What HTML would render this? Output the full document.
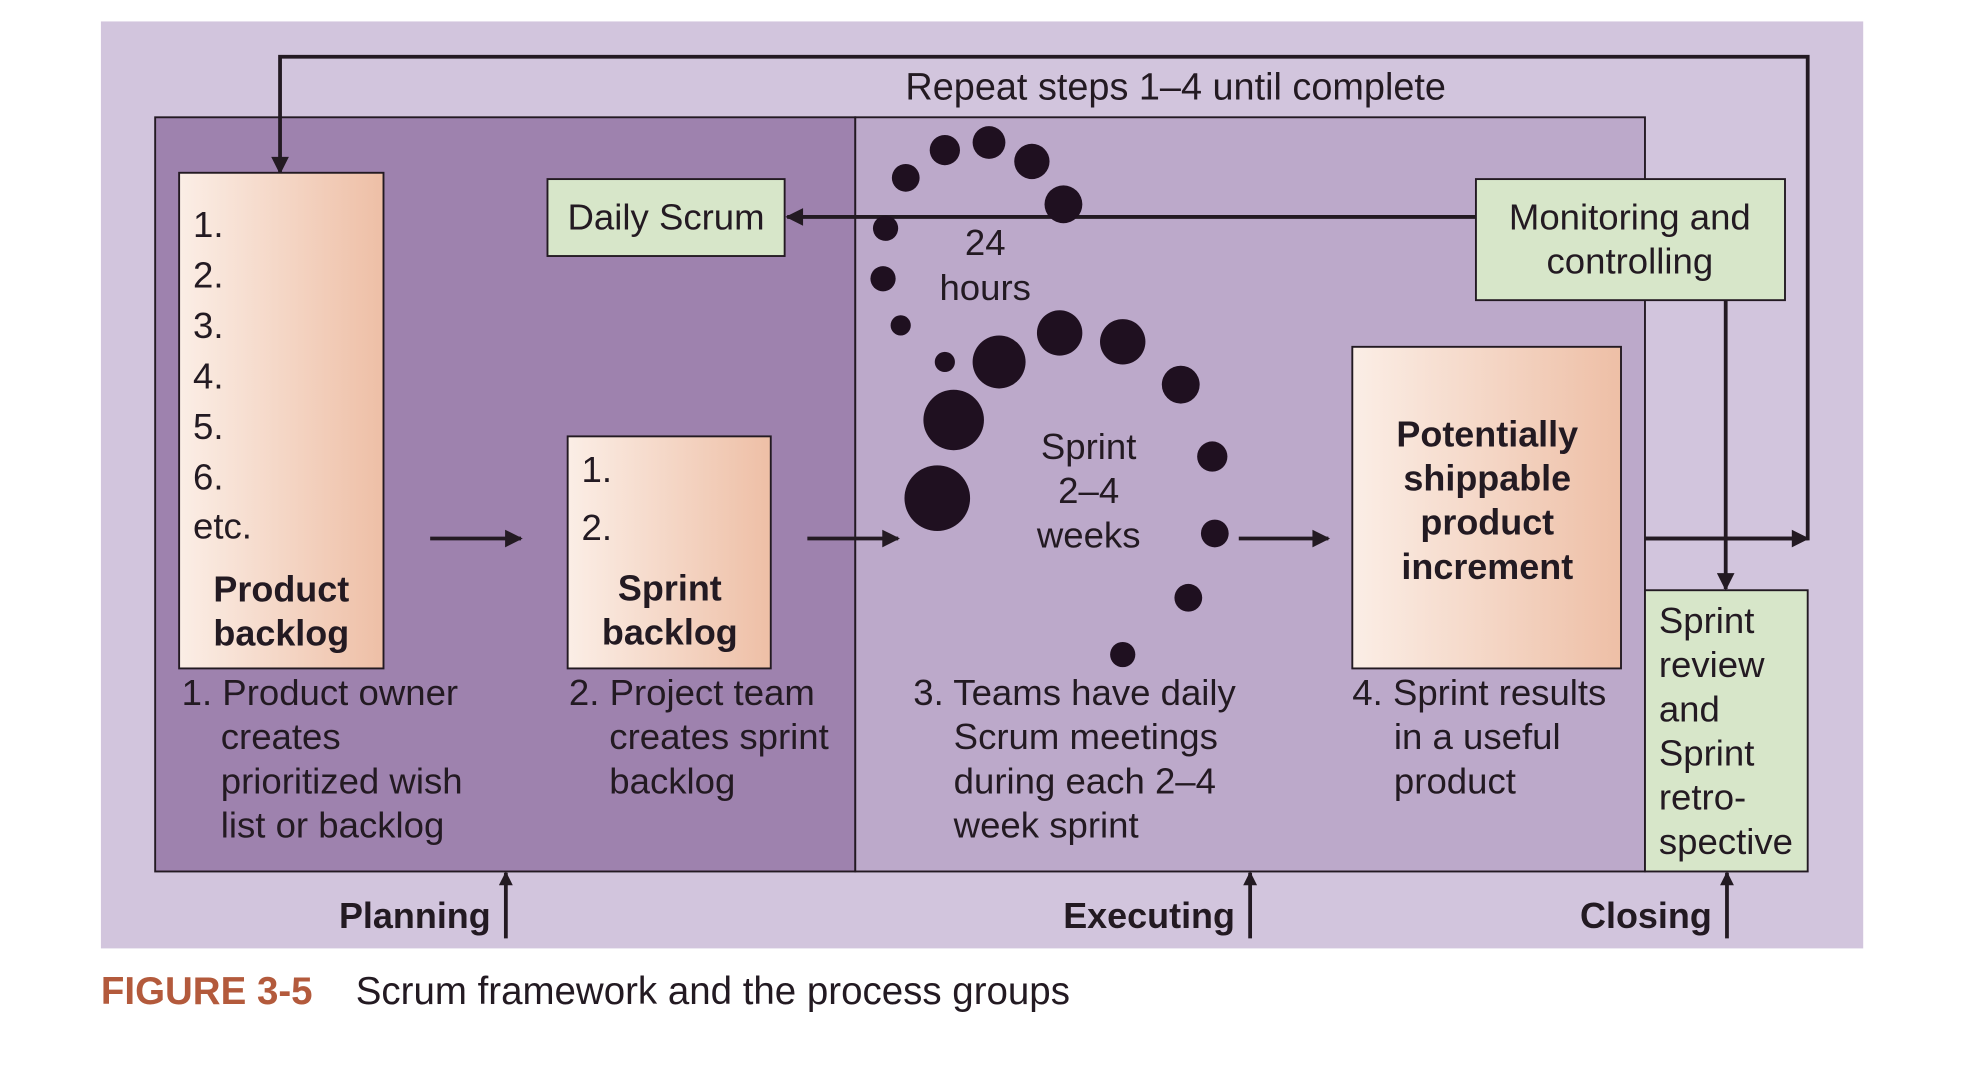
<!DOCTYPE html>
<html><head><meta charset="utf-8"><style>
html,body{margin:0;padding:0;background:#fff;}
svg{display:block;}
text{font-family:"Liberation Sans",sans-serif;fill:#231a22;}
</style></head><body>
<svg width="1978" height="1072" viewBox="0 0 1568 850" preserveAspectRatio="none" xmlns="http://www.w3.org/2000/svg">
<defs>
<linearGradient id="pg" x1="0" x2="1" y1="0" y2="0"><stop offset="0" stop-color="#fbeee6"/><stop offset="1" stop-color="#eebfa6"/></linearGradient>
<marker id="ah" viewBox="0 0 10 10" refX="9" refY="5" markerWidth="18" markerHeight="11" orient="auto" markerUnits="userSpaceOnUse"><path d="M0,0 L10,5 L0,10 z" fill="#231a22"/></marker>
<marker id="ah2" viewBox="0 0 10 10" refX="9" refY="5" markerWidth="22" markerHeight="14" orient="auto" markerUnits="userSpaceOnUse"><path d="M0,0 L10,5 L0,10 z" fill="#231a22"/></marker>
</defs>
<rect x="0" y="0" width="1568" height="850" fill="#fff"/>
<rect x="80" y="17" width="1397" height="735" fill="#d2c5dd"/>
<rect x="123" y="93" width="555" height="598" fill="#9e82ae" stroke="#231a22" stroke-width="1.5"/>
<rect x="678" y="93" width="626" height="598" fill="#bca9ca" stroke="#231a22" stroke-width="1.5"/>
<text x="932" y="79" font-size="30" text-anchor="middle">Repeat steps 1–4 until complete</text>
<polyline points="1304,427 1433,427 1433,45 222,45 222,137" fill="none" stroke="#231a22" stroke-width="3" marker-end="url(#ah2)"/>
<line x1="1304" y1="427" x2="1433" y2="427" stroke="#231a22" stroke-width="3" marker-end="url(#ah2)"/>
<rect x="142" y="137" width="162" height="393" fill="url(#pg)" stroke="#231a22" stroke-width="1.5"/>
<g font-size="29"><text x="153" y="188">1.</text><text x="153" y="228">2.</text><text x="153" y="268">3.</text><text x="153" y="308">4.</text><text x="153" y="348">5.</text><text x="153" y="388">6.</text><text x="153" y="427">etc.</text></g>
<g font-size="28.5" font-weight="bold" text-anchor="middle"><text x="223" y="477">Product</text><text x="223" y="512">backlog</text></g>
<rect x="450" y="346" width="161" height="184" fill="url(#pg)" stroke="#231a22" stroke-width="1.5"/>
<g font-size="29"><text x="461" y="382">1.</text><text x="461" y="428">2.</text></g>
<g font-size="28.5" font-weight="bold" text-anchor="middle"><text x="531" y="476">Sprint</text><text x="531" y="511">backlog</text></g>
<rect x="1072" y="275" width="213" height="255" fill="url(#pg)" stroke="#231a22" stroke-width="1.5"/>
<g font-size="28.5" font-weight="bold" text-anchor="middle"><text x="1179" y="354">Potentially</text><text x="1179" y="389">shippable</text><text x="1179" y="424">product</text><text x="1179" y="459">increment</text></g>
<rect x="434" y="142" width="188" height="61" fill="#d7e6c9" stroke="#231a22" stroke-width="1.5"/>
<text x="528" y="182" font-size="29" text-anchor="middle">Daily Scrum</text>
<rect x="1170" y="142" width="245" height="96" fill="#d7e6c9" stroke="#231a22" stroke-width="1.5"/>
<g font-size="29" text-anchor="middle"><text x="1292" y="182">Monitoring and</text><text x="1292" y="217">controlling</text></g>
<rect x="1304" y="468" width="129" height="223" fill="#d7e6c9" stroke="#231a22" stroke-width="1.5"/>
<g font-size="29"><text x="1315" y="502">Sprint</text><text x="1315" y="537">review</text><text x="1315" y="572">and</text><text x="1315" y="607">Sprint</text><text x="1315" y="642">retro-</text><text x="1315" y="677">spective</text></g>
<line x1="1170" y1="172" x2="624" y2="172" stroke="#231a22" stroke-width="3" marker-end="url(#ah2)"/>
<line x1="1368" y1="238" x2="1368" y2="467" stroke="#231a22" stroke-width="3" marker-end="url(#ah2)"/>
<line x1="341" y1="427" x2="413" y2="427" stroke="#231a22" stroke-width="3" marker-end="url(#ah2)"/>
<line x1="640" y1="427" x2="712" y2="427" stroke="#231a22" stroke-width="3" marker-end="url(#ah2)"/>
<line x1="982" y1="427" x2="1053" y2="427" stroke="#231a22" stroke-width="3" marker-end="url(#ah2)"/>
<g fill="#1f1020">
<circle cx="718" cy="141" r="11"/><circle cx="749" cy="119" r="12"/><circle cx="784" cy="113" r="13"/><circle cx="818" cy="128" r="14"/><circle cx="843" cy="162" r="15"/>
<circle cx="702" cy="181" r="10"/><circle cx="700" cy="221" r="10"/><circle cx="714" cy="258" r="8"/>
<circle cx="749" cy="287" r="8"/><circle cx="792" cy="287" r="21"/><circle cx="840" cy="264" r="18"/><circle cx="890" cy="271" r="18"/><circle cx="936" cy="305" r="15"/>
<circle cx="756" cy="333" r="24"/><circle cx="743" cy="395" r="26"/>
<circle cx="961" cy="362" r="12"/><circle cx="963" cy="423" r="11"/><circle cx="942" cy="474" r="11"/><circle cx="890" cy="519" r="10"/>
</g>
<g font-size="29" text-anchor="middle"><text x="781" y="202">24</text><text x="781" y="238">hours</text>
<text x="863" y="364">Sprint</text><text x="863" y="399">2–4</text><text x="863" y="434">weeks</text></g>
<g font-size="29">
<text x="144" y="559">1. Product owner</text><text x="175" y="594">creates</text><text x="175" y="629">prioritized wish</text><text x="175" y="664">list or backlog</text>
<text x="451" y="559">2. Project team</text><text x="483" y="594">creates sprint</text><text x="483" y="629">backlog</text>
<text x="724" y="559">3. Teams have daily</text><text x="756" y="594">Scrum meetings</text><text x="756" y="629">during each 2–4</text><text x="756" y="664">week sprint</text>
<text x="1072" y="559">4. Sprint results</text><text x="1105" y="594">in a useful</text><text x="1105" y="629">product</text>
</g>
<g font-size="28.5" font-weight="bold" text-anchor="end"><text x="389" y="736">Planning</text><text x="979" y="736">Executing</text><text x="1357" y="736">Closing</text></g>
<line x1="401" y1="744" x2="401" y2="692" stroke="#231a22" stroke-width="3" marker-end="url(#ah)"/>
<line x1="991" y1="744" x2="991" y2="692" stroke="#231a22" stroke-width="3" marker-end="url(#ah)"/>
<line x1="1369" y1="744" x2="1369" y2="692" stroke="#231a22" stroke-width="3" marker-end="url(#ah)"/>
<text x="80" y="796" font-size="30.5" font-weight="bold" style="fill:#b35a3c">FIGURE 3-5</text>
<text x="282" y="796" font-size="30.5">Scrum framework and the process groups</text>
</svg>
</body></html>
